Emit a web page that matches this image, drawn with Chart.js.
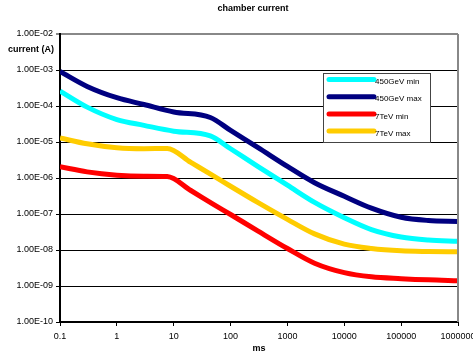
<!DOCTYPE html>
<html>
<head>
<meta charset="utf-8">
<title>chamber current</title>
<script src="https://cdn.jsdelivr.net/npm/chart.js@4"></script>
<style>
    body { margin: 0; background: #fff; }
    canvas { display: block; }
</style>
</head>
<body>
<canvas id="currentCanvas" width="473" height="358"></canvas>
<script>
// time in ms (450GeV curves bend at ~44 ms, 7TeV curves at ~7.7 ms)
const gevTimeMs = [0.1, 0.3, 1, 3, 10, 44, 100, 300, 1000, 3000, 10000, 30000, 100000, 300000, 1000000];
const tevTimeMs = [0.1, 0.3, 1, 3, 7.7, 20, 50, 100, 300, 1000, 3000, 10000, 30000, 100000, 300000, 1000000];

// chamber current in A
const gev450Min = [2.6e-4, 9.3e-5, 4.2e-5, 2.9e-5, 2e-5, 1.48e-5, 6.5e-6, 2.1e-6, 6.3e-7, 2.1e-7, 7.9e-8, 3.7e-8, 2.3e-8, 1.9e-8, 1.75e-8];
const gev450Max = [9.1e-4, 3.5e-4, 1.7e-4, 1.1e-4, 6.8e-5, 4.8e-5, 2.1e-5, 7.1e-6, 2.1e-6, 7.4e-7, 3.1e-7, 1.45e-7, 8.1e-8, 6.6e-8, 6.2e-8];
const tev7Min = [2.05e-6, 1.48e-6, 1.2e-6, 1.12e-6, 1.1e-6, 4.5e-7, 1.86e-7, 9.7e-8, 3.4e-8, 1.1e-8, 4.3e-9, 2.35e-9, 1.8e-9, 1.6e-9, 1.48e-9, 1.41e-9];
const tev7Max = [1.3e-5, 8.9e-6, 6.9e-6, 6.5e-6, 6.6e-6, 2.7e-6, 1.15e-6, 5.9e-7, 2.1e-7, 7.1e-8, 2.8e-8, 1.45e-8, 1.1e-8, 9.5e-9, 9.1e-9, 8.9e-9];

const seriesNames = ['450GeV min', '450GeV max', '7TeV min', '7TeV max'];
const seriesColors = ['#00FFFF', '#000080', '#FF0000', '#FFCC00'];

// axis ticks
const xTickValues = [0.1, 1, 10, 100, 1000, 10000, 100000, 1000000];
const xTickLabels = ['0.1', '1', '10', '100', '1000', '10000', '100000', '1000000'];
const yTickValues = [1e-10, 1e-9, 1e-8, 1e-7, 1e-6, 1e-5, 1e-4, 1e-3, 1e-2];
const yTickLabels = ['1.00E-10', '1.00E-09', '1.00E-08', '1.00E-07', '1.00E-06', '1.00E-05', '1.00E-04', '1.00E-03', '1.00E-02'];

const FONT = '"Liberation Sans", Arial, sans-serif';

function toPoints(times, values) {
    return times.map((t, i) => ({ x: t, y: values[i] }));
}

// title, y label, right frame and the boxed legend
const decorPlugin = {
    id: 'decor',
    afterDraw(chart) {
        const ctx = chart.ctx;
        const area = chart.chartArea;
        ctx.save();

        // frame on the right side
        ctx.strokeStyle = '#888888';
        ctx.lineWidth = 2;
        ctx.beginPath();
        ctx.moveTo(area.right, area.top);
        ctx.lineTo(area.right, area.bottom);
        ctx.stroke();

        ctx.fillStyle = '#000';
        ctx.font = 'bold 9px ' + FONT;
        ctx.textBaseline = 'middle';
        ctx.textAlign = 'center';
        ctx.fillText('chamber current', 253, 9);
        ctx.textAlign = 'right';
        ctx.fillText('current (A)', 54, 50);

        // legend
        const lx = 323, ly = 73, lw = 107, lh = 69;
        ctx.fillStyle = '#fff';
        ctx.fillRect(lx, ly, lw, lh);
        ctx.strokeStyle = '#444';
        ctx.lineWidth = 1;
        ctx.strokeRect(lx + 0.5, ly + 0.5, lw, lh);

        ctx.font = '8px ' + FONT;
        ctx.textAlign = 'left';
        ctx.lineCap = 'round';
        chart.data.datasets.forEach((ds, i) => {
            const y = 79.5 + i * 17.2;
            ctx.strokeStyle = ds.borderColor;
            ctx.lineWidth = 5;
            ctx.beginPath();
            ctx.moveTo(329, y);
            ctx.lineTo(374, y);
            ctx.stroke();
            ctx.fillStyle = '#000';
            ctx.fillText(ds.label, 375, y + 2.5);
        });
        ctx.restore();
    }
};

const seriesData = [
    toPoints(gevTimeMs, gev450Min),
    toPoints(gevTimeMs, gev450Max),
    toPoints(tevTimeMs, tev7Min),
    toPoints(tevTimeMs, tev7Max)
];

const chartData = {
    datasets: seriesData.map((points, i) => ({
        label: seriesNames[i],
        data: points,
        borderColor: seriesColors[i],
        backgroundColor: seriesColors[i],
        borderWidth: 5,
        pointRadius: 0,
        cubicInterpolationMode: 'monotone',
        fill: false
    }))
};

const ctx = document.getElementById('currentCanvas').getContext('2d');

new Chart(ctx, {
    type: 'line',
    data: chartData,
    plugins: [decorPlugin],
    options: {
        responsive: false,
        animation: false,
        layout: { padding: { top: 34, right: 15, left: 0, bottom: 0 } },
        plugins: {
            legend: { display: false },
            tooltip: { enabled: false }
        },
        scales: {
            x: {
                type: 'logarithmic',
                min: 0.1,
                max: 1000000,
                afterBuildTicks: scale => {
                    scale.ticks = xTickValues.map(v => ({ value: v }));
                },
                afterFit: scale => {
                    scale.paddingLeft = 0;
                    scale.paddingRight = 0;
                    scale.height = 36;
                },
                ticks: {
                    autoSkip: false,
                    maxRotation: 0,
                    padding: 5,
                    color: '#000',
                    font: { family: FONT, size: 9 },
                    callback: (value, index) => xTickLabels[index]
                },
                grid: {
                    drawOnChartArea: false,
                    tickLength: 4,
                    color: '#000'
                },
                border: { color: '#000', width: 2 },
                title: {
                    display: true,
                    text: 'ms',
                    color: '#000',
                    font: { family: FONT, size: 9, weight: 'bold' },
                    padding: { top: 0, bottom: 4 }
                }
            },
            y: {
                type: 'logarithmic',
                min: 1e-10,
                max: 1e-2,
                afterBuildTicks: scale => {
                    scale.ticks = yTickValues.map(v => ({ value: v }));
                },
                afterFit: scale => {
                    scale.paddingTop = 0;
                    scale.paddingBottom = 0;
                    scale.width = 60;
                },
                ticks: {
                    autoSkip: false,
                    padding: 3,
                    color: '#000',
                    font: { family: FONT, size: 9 },
                    callback: (value, index) => yTickLabels[index]
                },
                grid: {
                    tickLength: 4,
                    color: c => (c.tick && c.tick.value === 1e-2 ? '#888888' : '#000'),
                    lineWidth: c => (c.tick && c.tick.value === 1e-2 ? 2 : 1)
                },
                border: { color: '#000', width: 2 }
            }
        }
    }
});
</script>
</body>
</html>
